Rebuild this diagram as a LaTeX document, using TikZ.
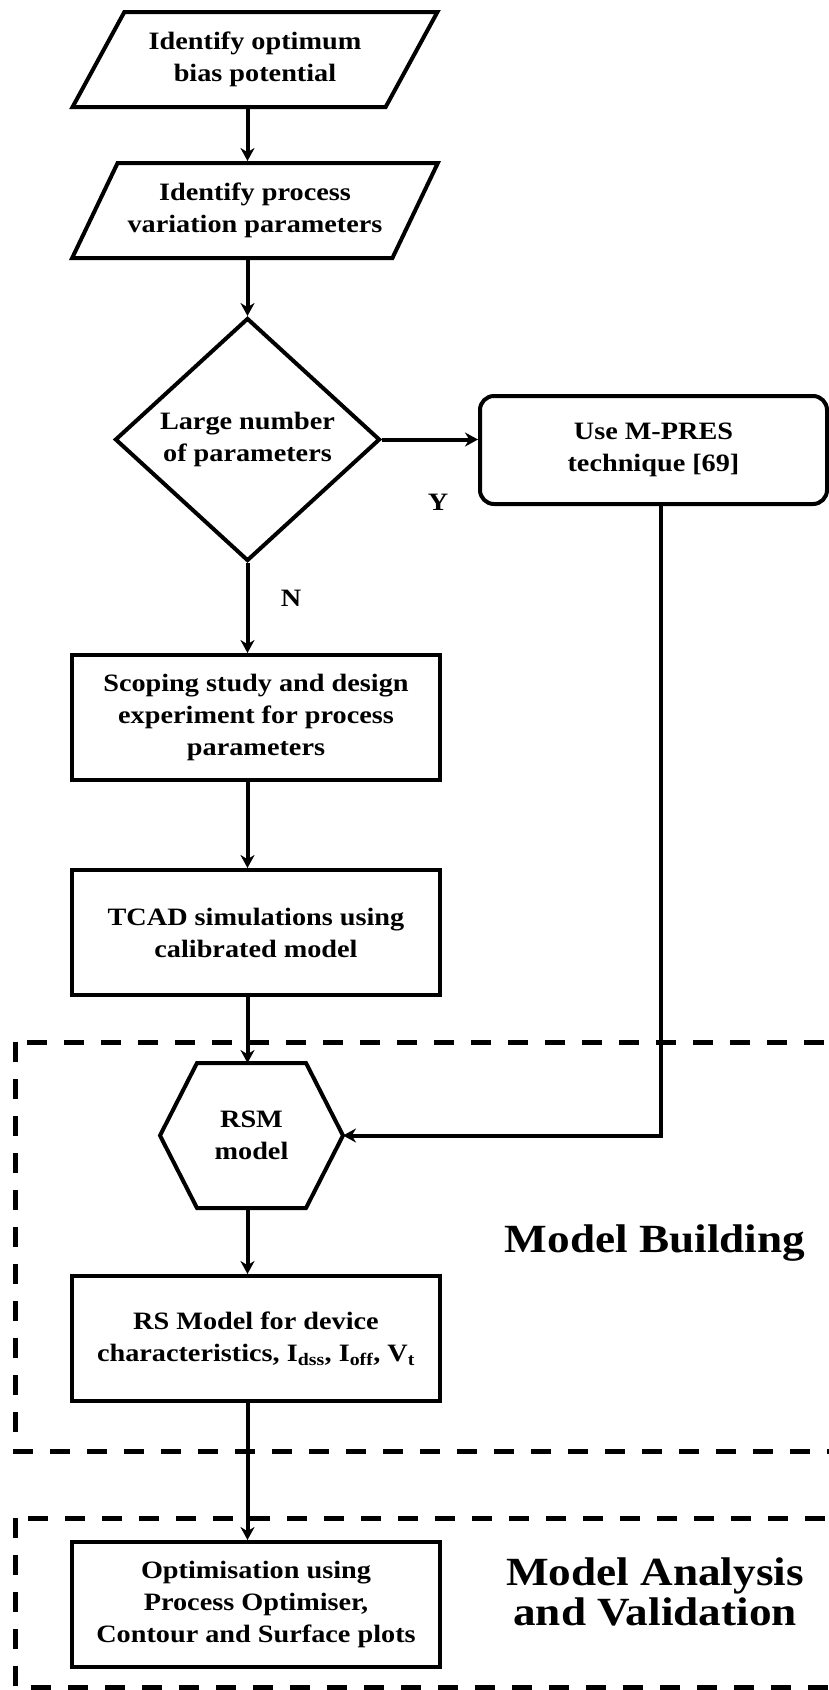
\documentclass[tikz,border=0pt]{standalone}
\usepackage{fontspec}
\setmainfont{Liberation Serif}[FakeStretch=1.13]
\usetikzlibrary{arrows.meta,positioning,shapes.geometric}

\begin{document}
\begin{tikzpicture}[
    x=1pt, y=-1pt,
    font=\fontsize{25}{32}\selectfont\bfseries,
    io/.style={trapezium, trapezium left angle=52.5, trapezium right angle=127.5, trapezium stretches=true, draw, line width=4pt, minimum width=366pt, minimum height=95pt, align=center, inner sep=0pt},
    proc/.style={draw, line width=4pt, minimum width=368pt, minimum height=125pt, align=center},
    decide/.style={diamond, draw, line width=4pt, minimum width=265pt, minimum height=243pt, align=center, inner sep=0pt},
    tech/.style={draw, line width=4pt, rounded corners=14pt, minimum width=347pt, minimum height=108pt, align=center},
    hexa/.style={minimum width=183pt, minimum height=145pt, align=center, outer sep=0pt},
    region/.style={line width=5pt, dash pattern=on 20pt off 17pt},
    arrow/.style={-{Stealth[length=13pt, width=14pt]}, line width=4pt},
    lbl/.style={inner sep=0pt},
    areatitle/.style={font=\fontsize{40}{40}\selectfont\bfseries, align=center, inner sep=0pt}
  ]
  \useasboundingbox (0,0) rectangle (829,1690);
  % dashed groups
  \draw[region] (15,1042) rectangle (880,1451);
  \draw[region] (15,1518) rectangle (880,1687);

  \node[io] (optbias) at (255,59.5) {Identify optimum\\bias potential};
  \node[io, below=52pt of optbias] (procvar) {Identify process\\variation parameters};
  \node[decide] (manypar) at (247.5,439.5) {Large number\\of parameters};
  \node[tech] (mpres) at (653.5,450) {Use M-PRES\\technique [69]};
  \node[proc] (scoping) at (256,717.5) {Scoping study and design\\experiment for process\\parameters};
  \node[proc, below=86pt of scoping] (tcad) {TCAD simulations using\\calibrated model};
  \node[hexa] (rsm) at (251.5,1135.5) {RSM\\model};
  \node[proc] (rsmodel) at (256,1338.5) {RS Model for device\\characteristics, I\textsubscript{dss}, I\textsubscript{off}, V\textsubscript{t}};
  \node[proc] (optim) at (256,1604.5) {Optimisation using\\Process Optimiser,\\Contour and Surface plots};

  % hexagon outline
  \draw[line width=4pt] (rsm.west) -- ([xshift=37pt]rsm.north west) -- ([xshift=-37pt]rsm.north east)
    -- (rsm.east) -- ([xshift=-37pt]rsm.south east) -- ([xshift=37pt]rsm.south west) -- cycle;

  \node[lbl] (yes) at (438,502) {Y};
  \node[lbl] (no) at (291,598) {N};
  \node[areatitle, anchor=base] (build) at (655,1252) {Model Building};
  \node[areatitle] (analysis) at (655,1592) {Model Analysis\\and Validation};

  \foreach \a/\b in {optbias/procvar,procvar/manypar,manypar/scoping,scoping/tcad,tcad/rsm,rsm/rsmodel,rsmodel/optim}
    \draw[arrow] (\a.south -| manypar) -- (\b.north -| manypar);
  \draw[arrow] (manypar.east) -- (manypar.east -| mpres.west);
  \draw[arrow] ([xshift=7.5pt]mpres.south) |- (rsm.east);
\end{tikzpicture}
\end{document}
